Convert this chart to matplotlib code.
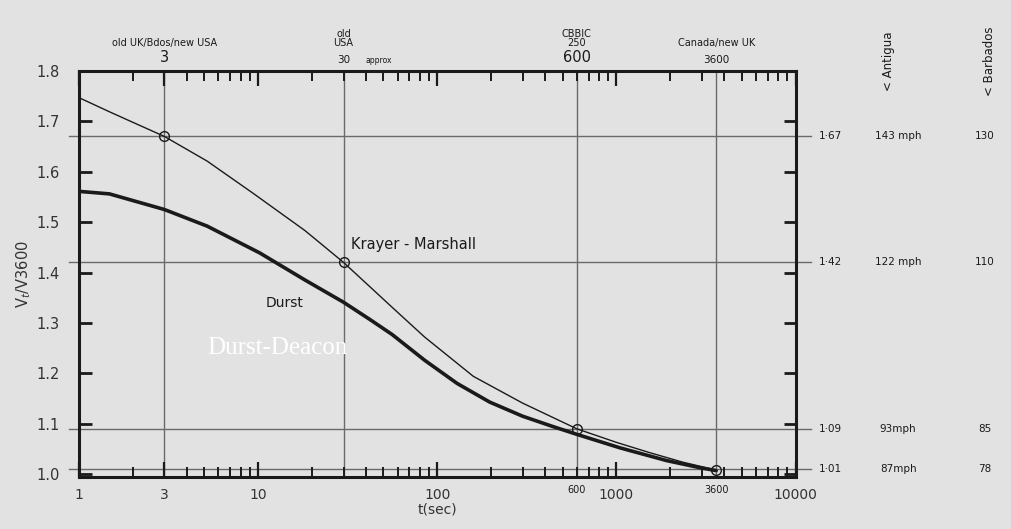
import matplotlib
matplotlib.use("Agg")
import matplotlib.pyplot as plt
import numpy as np
from matplotlib.ticker import LogLocator, NullFormatter
import matplotlib.transforms as mtransforms

# curve data
t_km = [1, 1.5, 2, 3, 5.2, 9.4, 18.3, 30, 56, 85, 159, 299, 600, 1000, 1520, 2330, 3600]
v_km = [1.747, 1.718, 1.698, 1.67, 1.621, 1.557, 1.483, 1.42, 1.331, 1.272, 1.194, 1.141,
        1.09, 1.063, 1.043, 1.024, 1.008]

t_durst = [1, 1.48, 3, 5.2, 10.2, 18.3, 30, 42, 56, 85, 129, 196, 299, 437, 600,
           1050, 1900, 2900, 3600]
v_durst = [1.561, 1.556, 1.525, 1.492, 1.439, 1.385, 1.341, 1.307, 1.277, 1.226, 1.180,
           1.143, 1.115, 1.095, 1.079, 1.052, 1.027, 1.013, 1.007]

# marked points / reference lines
mark_t = [3, 30, 600, 3600]
mark_v = [1.67, 1.42, 1.09, 1.01]
top_notes = ["old UK/Bdos/new USA", "old\nUSA", "CBBIC\n250", "Canada/new UK"]
top_vals = ["3", "30", "600", "3600"]
top_sizes = [10.5, 7.5, 10.5, 7.5]
right_ratio = ["1·67", "1·42", "1·09", "1·01"]
antigua = ["143 mph", "122 mph", "93mph", "87mph"]
barbados = ["130", "110", "85", "78"]

bg = "#e2e2e2"
ink = "#1a1a1a"
grid = "#6a6a6a"

fig = plt.figure(figsize=(10.11, 5.29), dpi=100, facecolor=bg)
ax = fig.add_axes([0.078, 0.098, 0.709, 0.768], facecolor=bg)
ax.set_xscale("log")
ax.set_xlim(1, 10000)
ax.set_ylim(0.994, 1.8)

for s in ax.spines.values():
    s.set_linewidth(2.2)
    s.set_color(ink)

# reference lines
trans_h = mtransforms.blended_transform_factory(ax.transAxes, ax.transData)
for v in mark_v:
    ax.plot([-0.014, 1.022], [v, v], transform=trans_h, color=grid, lw=1.0,
            clip_on=False, zorder=1)
for t in mark_t:
    ax.axvline(t, color=grid, lw=1.0, zorder=1)

ax.plot(t_km, v_km, color=ink, lw=1.0, zorder=3)
ax.plot(t_durst, v_durst, color=ink, lw=2.6, zorder=3, solid_capstyle="round",
        solid_joinstyle="round")
ax.plot(mark_t[:3], mark_v[:3], "o", ms=7, mfc="none", mec=ink, mew=1.0, zorder=4)
ax.plot([mark_t[3]], [1.008], "o", ms=7, mfc="none", mec=ink, mew=1.0, zorder=4)

# ticks
ax.set_xticks([1, 3, 10, 100, 1000, 10000])
ax.set_xticklabels(["1", "3", "10", "100", "1000", "10000"])
ax.xaxis.set_minor_locator(LogLocator(base=10, subs=np.arange(2, 10), numticks=20))
ax.xaxis.set_minor_formatter(NullFormatter())
ax.tick_params(axis="x", which="major", direction="in", length=11, width=1.6,
               top=True, labelsize=10, labelcolor="#333333", color=ink, pad=8)
ax.tick_params(axis="x", which="minor", direction="in", length=7, width=1.4, top=True,
               color=ink)
ax.set_yticks(np.arange(1.0, 1.81, 0.1))
ax.set_yticklabels(["%.1f" % v for v in np.arange(1.0, 1.81, 0.1)])
ax.tick_params(axis="y", direction="in", length=9, width=2, right=True,
               labelsize=10.5, labelcolor="#333333", color=ink, pad=14)
ax.text(600, 0.978, "600", fontsize=7, ha="center", va="top", color=ink)
ax.text(3600, 0.978, "3600", fontsize=7, ha="center", va="top", color=ink)

ax.set_xlabel("t(sec)", fontsize=10, labelpad=0, color="#333333")
ax.set_ylabel("V$_t$/V3600", fontsize=10.5, labelpad=2, color="#333333")

# top notes
for t, note, val, fs in zip(mark_t, top_notes, top_vals, top_sizes):
    ax.text(t, 1.812, val, ha="center", va="bottom", fontsize=fs, color=ink)
    ax.text(t, 1.845, note, ha="center", va="bottom", fontsize=7, color=ink,
            linespacing=0.9)
ax.text(40, 1.812, "approx", ha="left", va="bottom", fontsize=5.5, color=ink)

# right side notes
for v, r, a, b in zip(mark_v, right_ratio, antigua, barbados):
    ax.text(1.033, v, r, transform=trans_h, ha="left", va="center", fontsize=7.5, color=ink)
    ax.text(1.143, v, a, transform=trans_h, ha="center", va="center", fontsize=7.5, color=ink)
    ax.text(1.264, v, b, transform=trans_h, ha="center", va="center", fontsize=7.5, color=ink)
fig.text(0.879, 0.885, "< Antigua", rotation=90, ha="center", va="center", fontsize=8.5,
         color=ink)
fig.text(0.979, 0.885, "< Barbados", rotation=90, ha="center", va="center", fontsize=8.5,
         color=ink)

# curve labels
ax.text(33, 1.455, "Krayer - Marshall", fontsize=10.5, color=ink, ha="left", va="center")
ax.text(14, 1.34, "Durst", fontsize=10, color=ink, ha="center", va="center")
ax.text(12.8, 1.25, "Durst-Deacon", fontsize=18, color="white", family="Liberation Serif",
        ha="center", va="center")

fig.savefig("out.png", dpi=100, facecolor=bg)
